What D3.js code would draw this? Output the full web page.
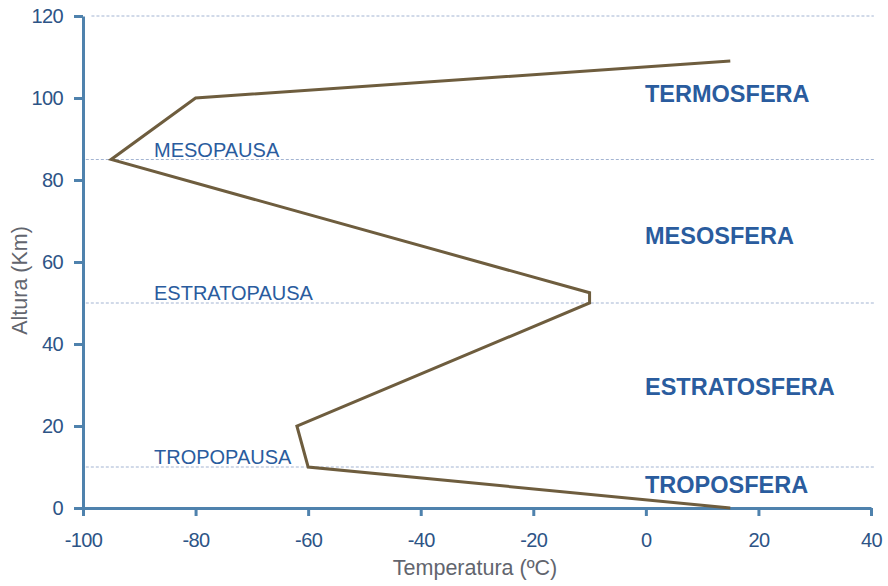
<!DOCTYPE html>
<html>
<head>
<meta charset="utf-8">
<script src="https://cdn.jsdelivr.net/npm/d3@7"></script>
<style>
  body { margin: 0; background: #fff; }
  svg text { font-family: "Liberation Sans", Arial, sans-serif; }
</style>
</head>
<body>
<div id="chart"></div>
<script>
// data ------------------
// temperature profile, from the ground up
const profileTemp = [15, -60, -62, -10, -10, -95, -80, 15]
const profileAlt  = [0, 10, 20, 50, 52.5, 85, 100, 109]

const pauseNames = ["MESOPAUSA", "ESTRATOPAUSA", "TROPOPAUSA"]
const pauseAlts  = [85, 50, 10]
const gridAlts   = [120, 85, 50, 10]

const layerNames = ["TERMOSFERA", "MESOSFERA", "ESTRATOSFERA", "TROPOSFERA"]
const layerAlts  = [99, 64.5, 27.5, 3.7]

const xTicks = [-100, -80, -60, -40, -20, 0, 20, 40]
const yTicks = [0, 20, 40, 60, 80, 100, 120]

// config ------------------
const w = 888, h = 586
const colours = {
    axis: "#4f82ad",
    tick: "#2d5486",
    title: "#62656e",
    line: "#6e5d3e",
    grid: "#a3b4d2",
    label: "#2a5c9e"
}

const x = d3.scaleLinear().domain([-100, 40]).range([83, 871])
const y = d3.scaleLinear().domain([0, 120]).range([508, 16])

const svg = d3.select('#chart')
    .append('svg')
    .attr('width', w)
    .attr('height', h)

// dashed reference lines
svg.append('g')
    .selectAll('line')
    .data(gridAlts)
    .join('line')
    .attr('x1', d => d == 120 ? x(-98.5) : x(-99.5))
    .attr('x2', x(40.5))
    .attr('y1', d => y(d))
    .attr('y2', d => y(d))
    .attr('stroke', colours.grid)
    .attr('stroke-width', 1)
    .attr('stroke-dasharray', '3,2')

// axes
const xAxis = d3.axisBottom(x).tickValues(xTicks).tickFormat(d => String(d))
    .tickSize(8).tickSizeOuter(0).tickPadding(17)
const yAxis = d3.axisLeft(y).tickValues(yTicks).tickFormat(d => String(d))
    .tickSize(9).tickSizeOuter(0).tickPadding(11)

const gx = svg.append('g')
    .attr('transform', 'translate(0,' + y(0) + ')')
    .call(xAxis)
const gy = svg.append('g')
    .attr('transform', 'translate(' + x(-100) + ',0)')
    .call(yAxis)

for (const g of [gx, gy]) {
    g.select('.domain').attr('stroke', colours.axis).attr('stroke-width', 3)
    g.selectAll('.tick line').attr('stroke', colours.axis).attr('stroke-width', 3)
    g.selectAll('.tick text')
        .attr('fill', colours.tick)
        .style('font-size', '20px')
        .style('letter-spacing', '-0.6px')
}

// profile line
const line = d3.line()
    .x(d => x(d[0]))
    .y(d => y(d[1]))

svg.append('path')
    .datum(d3.zip(profileTemp, profileAlt))
    .attr('d', line)
    .attr('fill', 'none')
    .attr('stroke', colours.line)
    .attr('stroke-width', 3)
    .attr('stroke-linejoin', 'miter')

// pause labels
svg.append('g')
    .selectAll('text')
    .data(d3.zip(pauseNames, pauseAlts))
    .join('text')
    .attr('x', 154)
    .attr('y', d => y(d[1]) - 3)
    .attr('fill', colours.label)
    .style('font-size', '20px')
    .text(d => d[0])

// layer labels
svg.append('g')
    .selectAll('text')
    .data(d3.zip(layerNames, layerAlts))
    .join('text')
    .attr('x', 645)
    .attr('y', d => y(d[1]))
    .attr('fill', colours.label)
    .style('font-size', '23.5px')
    .style('font-weight', 'bold')
    .text(d => d[0])

// axis titles
svg.append('text')
    .attr('x', 475)
    .attr('y', 575)
    .attr('text-anchor', 'middle')
    .attr('fill', colours.title)
    .style('font-size', '21.5px')
    .text('Temperatura (ºC)')

svg.append('text')
    .attr('transform', 'translate(27,' + y(55.5) + ') rotate(-90)')
    .attr('text-anchor', 'middle')
    .attr('fill', colours.title)
    .style('font-size', '21.5px')
    .text('Altura (Km)')
</script>
</body>
</html>
